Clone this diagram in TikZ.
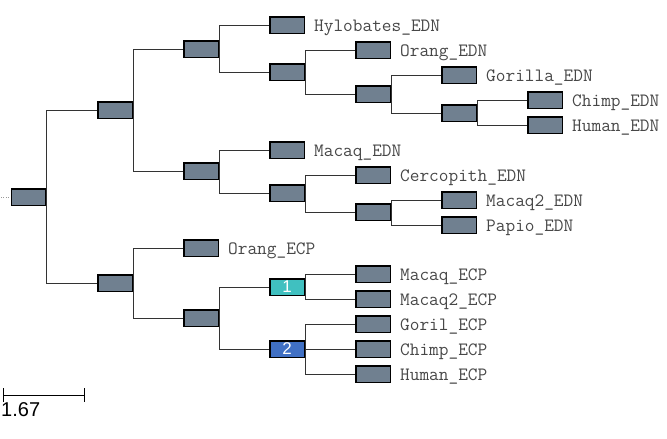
\documentclass[tikz,border=0pt]{standalone}
\usepackage{fontspec}
\setsansfont{Liberation Sans}
\usetikzlibrary{arrows.meta}

\definecolor{slate}{RGB}{112,128,144}
\definecolor{cladeone}{RGB}{64,192,192}
\definecolor{cladetwo}{RGB}{64,112,196}

\begin{document}
\begin{tikzpicture}
		[
			x=1pt, y=-1pt,
			box/.style={rectangle, draw=black, line width=1.5pt, fill=slate,
				minimum width=34.5pt, minimum height=16.5pt, inner sep=0pt},
			lbl/.style={font=\ttfamily\fontsize{18.8}{20}\selectfont, text=black!72,
				inner sep=0pt, label distance=9pt, anchor=base west, yshift=-6.5pt},
			leaf/.style={box, label={[lbl]right:#1}},
			clade/.style={box, fill=#1, text=white, font=\sffamily\fontsize{17}{17}\selectfont},
			edge/.style={draw=black!80, line width=0.8pt},
		]
		\useasboundingbox (0,0) rectangle (667,439);

		% Internal nodes
		\foreach \name/\x/\y in
		{
			root/28.5/197,
			edn/115/110,
			ecp/115/283,
			apes/201/49,
			monk/201/171,
			great/287/72,
			afr/373/94,
			hom/459/113,
			cerc/287/193,
			papio/373/212,
			catar/201/318
		}
			\node[box] (\name) at (\x,\y) {};

		\node[clade=cladeone] (one) at (287,287) {1};
		\node[clade=cladetwo] (two) at (287,349) {2};

		% Leaves
		\foreach \name/\x/\y/\txt in
		{
			hyloE/287/25/Hylobates\_EDN,
			orangE/373/50/Orang\_EDN,
			gorE/459/75/Gorilla\_EDN,
			chimpE/545/100/Chimp\_EDN,
			humanE/545/125/Human\_EDN,
			macE/287/150/Macaq\_EDN,
			cercE/373/175/Cercopith\_EDN,
			macbE/459/200/Macaq2\_EDN,
			papioE/459/225/Papio\_EDN,
			orangC/201/248/Orang\_ECP,
			macC/373/274/Macaq\_ECP,
			macbC/373/299/Macaq2\_ECP,
			gorC/373/324/Goril\_ECP,
			chimpC/373/349/Chimp\_ECP,
			humanC/373/374/Human\_ECP
		}
			\node[leaf=\txt] (\name) at (\x,\y) {};

		% Edges
		\foreach \u/\v in
		{
			root/edn,
			root/ecp,
			edn/apes,
			edn/monk,
			apes/hyloE,
			apes/great,
			great/orangE,
			great/afr,
			afr/gorE,
			afr/hom,
			hom/chimpE,
			hom/humanE,
			monk/macE,
			monk/cerc,
			cerc/cercE,
			cerc/papio,
			papio/macbE,
			papio/papioE,
			ecp/orangC,
			ecp/catar,
			catar/one,
			catar/two,
			one/macC,
			one/macbC,
			two/gorC,
			two/chimpC,
			two/humanC}
			\draw[edge] (\u.east) |- (\v.west);

		% Root stub
		\coordinate (stub) at (1,197);
		\draw[dotted, black!40] (stub) -- (root.west);

		% Scale bar
		\coordinate (sbl) at (3,395);
		\coordinate (sbr) at (85,395);
		\draw[line width=1pt, {Bar[width=14pt]}-{Bar[width=14pt]}] (sbl) -- (sbr);
		\node[anchor=north west, inner sep=0pt, font=\sffamily\fontsize{20}{20}\selectfont]
			(scale) at (1,402) {1.67};

		\end{tikzpicture}
\end{document}
